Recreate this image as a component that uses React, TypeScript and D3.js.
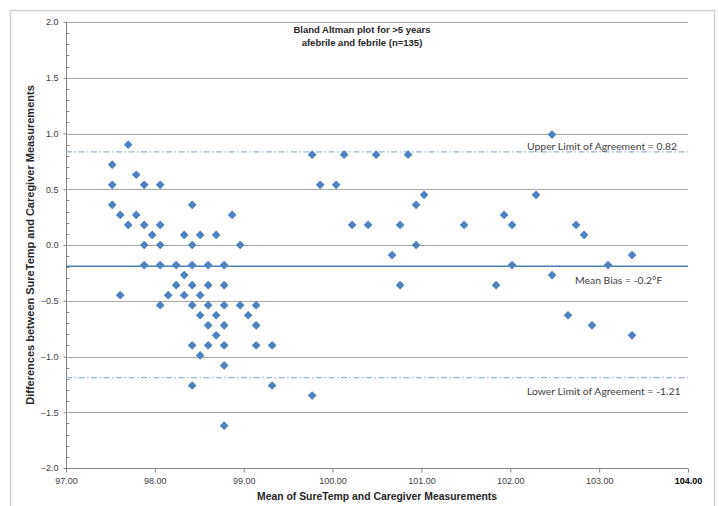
import React, { useEffect, useRef } from "react";
import * as d3 from "d3";

// mean of the two readings (°F) and their difference (°F)
const meanTemps = [
  97.52, 97.52, 97.52,
  97.61, 97.61,
  97.7, 97.7,
  97.79, 97.79,
  97.88, 97.88, 97.88, 97.88,
  97.97,
  98.06, 98.06, 98.06, 98.06, 98.06,
  98.15,
  98.24, 98.24,
  98.33, 98.33, 98.33,
  98.42, 98.42, 98.42, 98.42, 98.42, 98.42, 98.42,
  98.51, 98.51, 98.51, 98.51,
  98.6, 98.6, 98.6, 98.6, 98.6,
  98.69, 98.69, 98.69,
  98.78, 98.78, 98.78, 98.78, 98.78, 98.78, 98.78,
  98.87,
  98.96, 98.96,
  99.05,
  99.14, 99.14, 99.14,
  99.32, 99.32,
  99.77, 99.77,
  99.86,
  100.04,
  100.13,
  100.22,
  100.4,
  100.49,
  100.67,
  100.76, 100.76,
  100.85,
  100.94, 100.94,
  101.03,
  101.48,
  101.84,
  101.93,
  102.02, 102.02,
  102.29,
  102.47, 102.47,
  102.65,
  102.74,
  102.83,
  102.92,
  103.1,
  103.37, 103.37,
];
const differences = [
  0.72, 0.54, 0.36,
  0.27, -0.45,
  0.9, 0.18,
  0.63, 0.27,
  0.54, 0.18, 0, -0.18,
  0.09,
  0.54, 0.18, 0, -0.18, -0.54,
  -0.45,
  -0.18, -0.36,
  0.09, -0.27, -0.45,
  0.36, 0, -0.18, -0.36, -0.54, -0.9, -1.26,
  0.09, -0.45, -0.63, -0.99,
  -0.18, -0.36, -0.54, -0.72, -0.9,
  0.09, -0.63, -0.81,
  -0.18, -0.36, -0.54, -0.72, -0.9, -1.08, -1.62,
  0.27,
  0, -0.54,
  -0.63,
  -0.54, -0.72, -0.9,
  -0.9, -1.26,
  0.81, -1.35,
  0.54,
  0.54,
  0.81,
  0.18,
  0.18,
  0.81,
  -0.09,
  0.18, -0.36,
  0.81,
  0.36, 0,
  0.45,
  0.18,
  -0.36,
  0.27,
  0.18, -0.18,
  0.45,
  0.99, -0.27,
  -0.63,
  0.18,
  0.09,
  -0.72,
  -0.18,
  -0.09, -0.81,
];

const refNames = ["upper", "mean", "lower"];
const refValues = [0.835, -0.19, -1.19];
const refLabels = [
  "Upper Limit of Agreement = 0.82",
  "Mean Bias = -0.2°F",
  "Lower Limit of Agreement = -1.21",
];

const xTicks = [97, 98, 99, 100, 101, 102, 103, 104];
const yTicks = [-2, -1.5, -1, -0.5, 0, 0.5, 1, 1.5, 2];
const titleLines = ["Bland Altman plot for >5 years", "afebrile and febrile (n=135)"];

const App = () => {
  const width = 719;
  const height = 506;
  const plot = { left: 66, right: 688, top: 22, bottom: 468 };
  const svgRef = useRef<SVGSVGElement>(null);

  useEffect(() => {
    const svg = d3.select(svgRef.current);
    svg.selectAll("*").remove();

    const x = d3.scaleLinear().domain([97, 104]).range([plot.left, plot.right]);
    const y = d3.scaleLinear().domain([-2, 2]).range([plot.bottom, plot.top]);

    // chart border
    svg
      .append("rect")
      .attr("x", 10.5)
      .attr("y", 10.5)
      .attr("width", 704)
      .attr("height", 510)
      .attr("fill", "white")
      .attr("stroke", "#d0d0d0")
      .attr("stroke-width", 1.5);

    // gridlines
    svg
      .append("g")
      .selectAll("line")
      .data(yTicks.filter((t) => t > -2))
      .join("line")
      .attr("x1", plot.left)
      .attr("x2", plot.right)
      .attr("y1", (d) => Math.round(y(d)) + 0.5)
      .attr("y2", (d) => Math.round(y(d)) + 0.5)
      .attr("stroke", "#a6a6a6")
      .attr("stroke-width", 1);

    // y axis
    const yAxis = d3
      .axisLeft(y)
      .tickValues(yTicks)
      .tickFormat(d3.format(".1f"))
      .tickSize(3)
      .tickPadding(5);
    const gy = svg
      .append("g")
      .attr("transform", `translate(${plot.left + 0.5},0)`)
      .call(yAxis);
    gy.select(".domain").attr("stroke", "#868686").attr("d", `M0,${plot.top}V${plot.bottom}`);
    gy.selectAll(".tick line").attr("stroke", "#868686");
    gy.selectAll(".tick text")
      .attr("fill", "#404040")
      .attr("font-family", "'Liberation Sans', Arial, sans-serif")
      .attr("font-size", 9);

    // y minor ticks
    const minor = d3.range(-20, 21).map((i) => i / 10).filter((v) => Math.abs(v * 2 - Math.round(v * 2)) > 0.01);
    svg
      .append("g")
      .selectAll("line")
      .data(minor)
      .join("line")
      .attr("x1", plot.left + 0.5)
      .attr("x2", plot.left + 3.5)
      .attr("y1", (d) => Math.round(y(d)) + 0.5)
      .attr("y2", (d) => Math.round(y(d)) + 0.5)
      .attr("stroke", "#868686");

    // x axis
    const xAxis = d3
      .axisBottom(x)
      .tickValues(xTicks)
      .tickFormat(d3.format(".2f"))
      .tickSize(4)
      .tickPadding(5);
    const gx = svg
      .append("g")
      .attr("transform", `translate(0,${plot.bottom + 0.5})`)
      .call(xAxis);
    gx.select(".domain").attr("stroke", "#868686").attr("d", `M${plot.left},0H${plot.right}`);
    gx.selectAll(".tick line").attr("stroke", "#868686");
    gx.selectAll(".tick text")
      .attr("fill", (d) => (d === 104 ? "#000" : "#404040"))
      .attr("font-weight", (d) => (d === 104 ? "bold" : "normal"))
      .attr("font-family", "'Liberation Sans', Arial, sans-serif")
      .attr("font-size", 9);

    // reference lines
    svg
      .append("g")
      .selectAll("line")
      .data(refValues)
      .join("line")
      .attr("x1", plot.left)
      .attr("x2", plot.right)
      .attr("y1", (d) => y(d))
      .attr("y2", (d) => y(d))
      .attr("stroke", (d, i) => (refNames[i] === "mean" ? "#4a7ebb" : "#95b3d7"))
      .attr("stroke-width", (d, i) => (refNames[i] === "mean" ? 1.5 : 1.3))
      .attr("stroke-dasharray", (d, i) => (refNames[i] === "mean" ? null : "6,2.5,1.5,2.5"));

    // points
    const pts = meanTemps.map((m, i) => ({ m, d: differences[i] }));
    const diamond = d3.symbol().type(d3.symbolSquare).size(38);
    svg
      .append("g")
      .attr("fill", "#4f81bd")
      .selectAll("path")
      .data(pts)
      .join("path")
      .attr("d", diamond)
      .attr("transform", (p) => `translate(${x(p.m)},${y(p.d)}) rotate(45)`);

    // reference labels
    const labelX = [527, 575, 527];
    const labelDy = [-2, 18, 17];
    svg
      .append("g")
      .attr("font-family", "Lato, 'Liberation Sans', Arial, sans-serif")
      .attr("font-size", 10.4)
      .attr("fill", "#404040")
      .selectAll("text")
      .data(refLabels)
      .join("text")
      .attr("x", (d, i) => labelX[i])
      .attr("y", (d, i) => y(refValues[i]) + labelDy[i])
      .text((d) => d);

    // title
    svg
      .append("g")
      .attr("font-family", "'Liberation Sans', Arial, sans-serif")
      .attr("font-size", 9.5)
      .attr("font-weight", "bold")
      .attr("fill", "#262626")
      .attr("text-anchor", "middle")
      .selectAll("text")
      .data(titleLines)
      .join("text")
      .attr("x", 362)
      .attr("y", (d, i) => 33 + i * 12.5)
      .text((d) => d);

    // axis titles
    svg
      .append("text")
      .attr("x", 377)
      .attr("y", 500)
      .attr("text-anchor", "middle")
      .attr("font-family", "'Liberation Sans', Arial, sans-serif")
      .attr("font-size", 10.4)
      .attr("font-weight", "bold")
      .attr("fill", "#262626")
      .text("Mean of SureTemp and Caregiver Measurements");

    svg
      .append("text")
      .attr("transform", `translate(34,${(plot.top + plot.bottom) / 2}) rotate(-90)`)
      .attr("text-anchor", "middle")
      .attr("font-family", "'Liberation Sans', Arial, sans-serif")
      .attr("font-size", 11)
      .attr("font-weight", "bold")
      .attr("fill", "#262626")
      .text("Differences between SureTemp and Caregiver Measurements");
  }, []);

  return (
    <svg
      ref={svgRef}
      width={width}
      height={height}
      style={{ position: "absolute", left: 0, top: 0, background: "white" }}
    />
  );
};

export default App;
